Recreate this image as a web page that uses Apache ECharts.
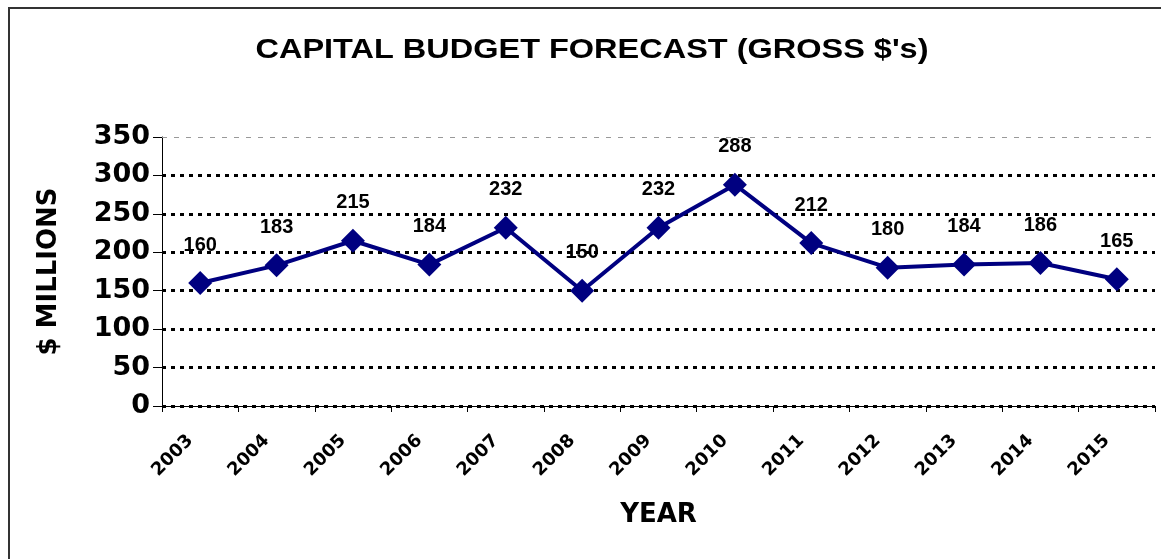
<!DOCTYPE html>
<html>
<head>
<meta charset="utf-8">
<script src="https://cdn.jsdelivr.net/npm/echarts@6/dist/echarts.min.js"></script>
<style>
html,body{margin:0;padding:0;background:#fff;}
#chart{width:1161px;height:559px;}
</style>
</head>
<body>
<div id="chart"></div>
<script>
const titleText = "CAPITAL BUDGET FORECAST (GROSS $'s)";
const years = ['2003','2004','2005','2006','2007','2008','2009','2010','2011','2012','2013','2014','2015'];
const budget = [160,183,215,184,232,150,232,288,212,180,184,186,165];
const yTicks = {min: 0, max: 350, interval: 50};

const WIDE = '"DejaVu Sans", Verdana, sans-serif';
const FONT = '"Liberation Sans", Arial, sans-serif';
const chart = echarts.init(document.getElementById('chart'), null, {renderer: 'canvas'});
chart.setOption({
  backgroundColor: '#fff',
  animation: false,
  graphic: [{
    type: 'rect',
    shape: {x: 9, y: 8, width: 1300, height: 700},
    style: {fill: 'none', stroke: '#333', lineWidth: 2},
    silent: true
  }, {
    type: 'text',
    x: 592, y: 50,
    scaleX: 1.16,
    silent: true,
    style: {text: titleText, fontFamily: FONT, fontWeight: 'bold', fontSize: 28, fill: '#000', align: 'center', verticalAlign: 'middle'}
  }],
  grid: {left: 162, right: 6, top: 137, bottom: 153},
  xAxis: {
    type: 'category',
    data: years,
    boundaryGap: true,
    name: 'YEAR',
    nameLocation: 'middle',
    nameGap: 96,
    nameTextStyle: {fontFamily: WIDE, fontWeight: 'bold', fontSize: 26, color: '#000'},
    axisLine: {lineStyle: {color: '#000', width: 1}},
    axisTick: {show: true, alignWithLabel: false, length: 6, lineStyle: {color: '#000'}},
    axisLabel: {rotate: 45, margin: 22, padding: [0, 14, 0, 0], fontFamily: WIDE, fontWeight: 'bold', fontSize: 18, color: '#000'}
  },
  yAxis: {
    type: 'value',
    min: yTicks.min, max: yTicks.max, interval: yTicks.interval,
    name: '$ MILLIONS',
    nameLocation: 'middle',
    nameGap: 100,
    nameTextStyle: {fontFamily: WIDE, fontWeight: 'bold', fontSize: 26, color: '#000'},
    axisLine: {show: true, lineStyle: {color: '#000', width: 1}},
    axisTick: {show: true, length: 9, lineStyle: {color: '#000'}},
    axisLabel: {margin: 12, fontFamily: WIDE, fontWeight: 'bold', fontSize: 27, color: '#000'},
    splitLine: {show: true, lineStyle: {color: ['#000','#000','#000','#000','#000','#000','#000','rgba(0,0,0,0)'], width: 3, type: [4,5]}}
  },
  series: [{
    type: 'line',
    data: budget,
    symbol: 'diamond',
    symbolSize: [24, 24],
    itemStyle: {color: '#000080'},
    lineStyle: {color: '#000080', width: 4},
    label: {show: true, position: 'top', distance: 16, fontFamily: FONT, fontWeight: 'bold', fontSize: 20, color: '#000'},
    markLine: {
      silent: true,
      symbol: 'none',
      label: {show: false},
      lineStyle: {color: '#999', width: 1, type: [5,7]},
      data: [{yAxis: yTicks.max}]
    }
  }]
});
</script>
</body>
</html>
